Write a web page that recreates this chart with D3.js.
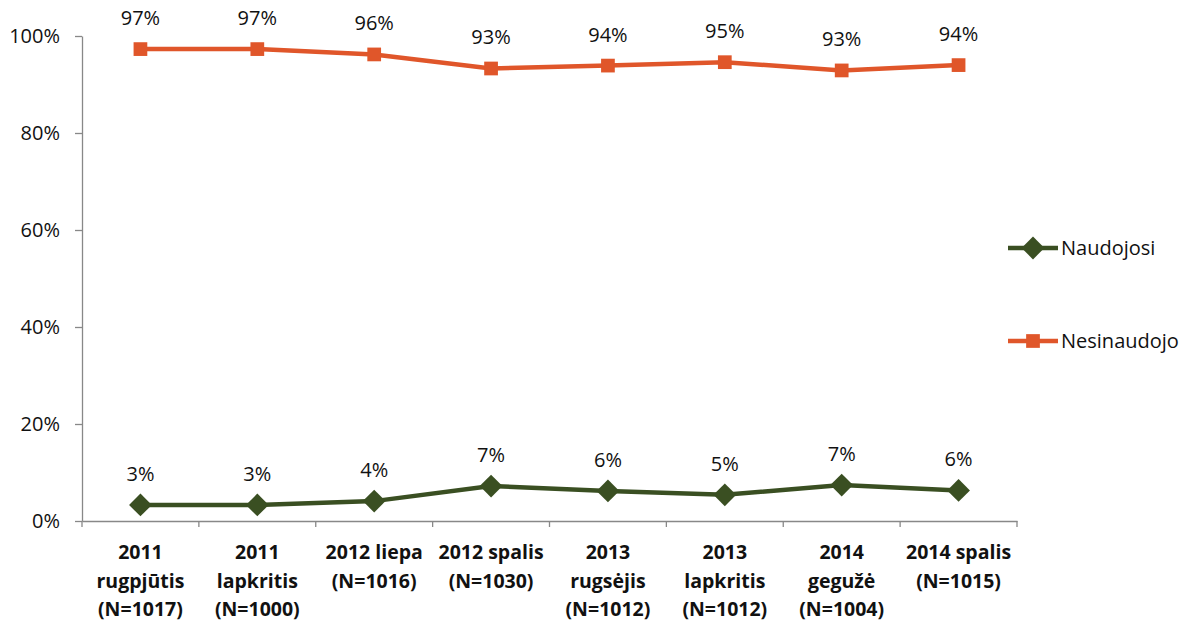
<!DOCTYPE html>
<html>
<head>
<meta charset="utf-8">
<script src="https://cdn.jsdelivr.net/npm/d3@7"></script>
<style>
  body { margin: 0; background: #fff; }
  svg { font-family: "Open Sans", "Noto Sans", sans-serif; }
</style>
</head>
<body>
<svg id="chart" width="1182" height="621"></svg>
<script>
// duomenys
const categories = [
  ["2011", "rugpjūtis", "(N=1017)"],
  ["2011", "lapkritis", "(N=1000)"],
  ["2012 liepa", "(N=1016)"],
  ["2012 spalis", "(N=1030)"],
  ["2013", "rugsėjis", "(N=1012)"],
  ["2013", "lapkritis", "(N=1012)"],
  ["2014", "gegužė", "(N=1004)"],
  ["2014 spalis", "(N=1015)"]
];
const naudojosi = [3.3, 3.3, 4.1, 7.2, 6.2, 5.4, 7.4, 6.3];
const nesinaudojo = [97.3, 97.3, 96.2, 93.3, 93.9, 94.6, 92.9, 94.0];
const yTicks = [0, 20, 40, 60, 80, 100];

const series = [
  { name: "Naudojosi", values: naudojosi, color: "#3A4F22", shape: d3.symbolDiamond2, size: 330 },
  { name: "Nesinaudojo", values: nesinaudojo, color: "#E0562A", shape: d3.symbolSquare2, size: 240 }
];

const margin = { top: 36, right: 165, bottom: 100, left: 82 };
const width = 1182, height = 621;
const svg = d3.select("#chart");

const x = d3.scaleBand().domain(d3.range(categories.length))
  .range([margin.left, width - margin.right]);
const y = d3.scaleLinear().domain([0, 100]).range([height - margin.bottom, margin.top]);

// Y ašis
const yAxis = svg.append("g").attr("transform", `translate(${margin.left},0)`)
  .call(d3.axisLeft(y).tickValues(yTicks).tickFormat(d => d + "%").tickSize(7).tickSizeOuter(0));
yAxis.selectAll("line, path").attr("stroke", "#888").attr("stroke-width", 1.3);
yAxis.selectAll("text").attr("font-size", 20).attr("fill", "#111").attr("dx", -12)
  .attr("font-family", "Open Sans, sans-serif");

// X ašis
const xAxis = svg.append("g").attr("transform", `translate(0,${y(0)})`)
  .call(d3.axisBottom(x).tickSize(0).tickFormat(""));
xAxis.selectAll("path").attr("stroke", "#888").attr("stroke-width", 1.3);
const bounds = d3.range(categories.length + 1).map(i => i < categories.length ? x(i) : x.range()[1]);
svg.append("g").selectAll("line").data(bounds).join("line")
  .attr("x1", d => d).attr("x2", d => d)
  .attr("y1", y(0)).attr("y2", y(0) + 6)
  .attr("stroke", "#888").attr("stroke-width", 1.3);

svg.append("g").selectAll("text").data(categories).join("text")
  .attr("x", (d, i) => x(i) + x.bandwidth() / 2)
  .attr("y", y(0) + 38)
  .attr("text-anchor", "middle")
  .attr("font-size", 19.5).attr("font-weight", "bold").attr("fill", "#111")
  .each(function(d) {
    d3.select(this).selectAll("tspan").data(d).join("tspan")
      .attr("x", d3.select(this).attr("x"))
      .attr("dy", (t, j) => j === 0 ? 0 : 28.5)
      .text(t => t);
  });

// linijos
const line = d3.line().x((d, i) => x(i) + x.bandwidth() / 2).y(d => y(d));
series.forEach(s => {
  const g = svg.append("g");
  g.append("path").datum(s.values).attr("d", line)
    .attr("fill", "none").attr("stroke", s.color).attr("stroke-width", 4.5);
  g.selectAll("path.m").data(s.values).join("path").attr("class", "m")
    .attr("d", d3.symbol().type(s.shape).size(s.size))
    .attr("transform", (d, i) => `translate(${x(i) + x.bandwidth() / 2},${y(d)})`)
    .attr("fill", s.color);
  g.selectAll("text").data(s.values).join("text")
    .attr("x", (d, i) => x(i) + x.bandwidth() / 2)
    .attr("y", d => y(d) - 24)
    .attr("text-anchor", "middle").attr("font-size", 20).attr("fill", "#111")
    .text(d => Math.round(d) + "%");
});

// legenda
const legend = svg.append("g").selectAll("g").data(series).join("g")
  .attr("transform", (d, i) => `translate(1008,${248 + i * 93})`);
legend.append("line").attr("x1", 0).attr("x2", 50)
  .attr("stroke", d => d.color).attr("stroke-width", 4.5);
legend.append("path").attr("d", d => d3.symbol().type(d.shape).size(d.size)())
  .attr("transform", "translate(25,0)").attr("fill", d => d.color);
legend.append("text").attr("x", 53).attr("y", 7)
  .attr("font-size", 20).attr("fill", "#111").text(d => d.name);
</script>
</body>
</html>
